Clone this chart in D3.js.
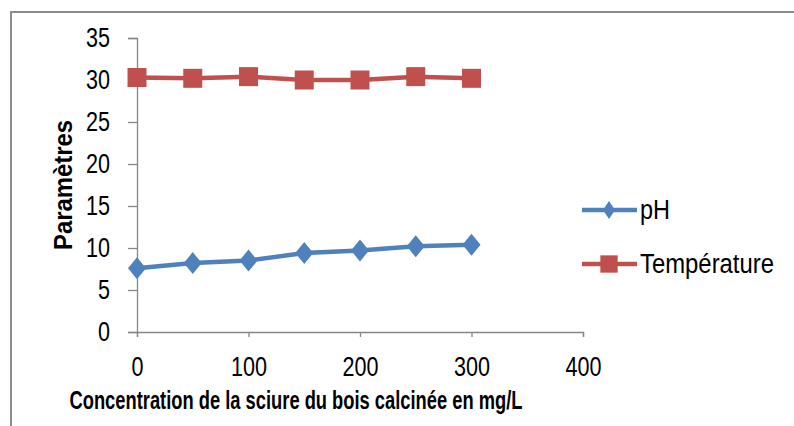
<!DOCTYPE html>
<html>
<head>
<meta charset="utf-8">
<script src="https://d3js.org/d3.v7.min.js"></script>
<style>
  body { margin: 0; background: #fff; }
  text { font-family: "Liberation Sans", Arial, sans-serif; fill: #000; }
</style>
</head>
<body>
<div id="chart"></div>
<script>
"use strict";
// data
var concentrations = [0, 50, 100, 150, 200, 250, 300];
var pH = [7.6, 8.2, 8.5, 9.4, 9.7, 10.2, 10.4];
var temperature = [30.3, 30.2, 30.4, 30.0, 30.0, 30.4, 30.2];
var xTicks = [0, 100, 200, 300, 400];
var yTicks = [0, 5, 10, 15, 20, 25, 30, 35];
var seriesNames = ["pH", "Température"];
var colors = ["#4F81BD", "#C0504D"];

var W = 794, H = 426;
var svg = d3.select("#chart").append("svg").attr("width", W).attr("height", H);

// outer frame (only top and left edges show)
svg.append("path")
  .attr("d", "M11,426 V12 H794")
  .attr("fill", "none").attr("stroke", "#8c8c8c").attr("stroke-width", 2);

var x = d3.scaleLinear().domain([0, 400]).range([137, 583]);
var y = d3.scaleLinear().domain([0, 35]).range([332, 38]);

// the source font is a narrow one: fit digits to about 12px each
function narrowDigits(sel) {
  sel.each(function () {
    var n = this.textContent.length;
    d3.select(this).attr("textLength", n * 12).attr("lengthAdjust", "spacingAndGlyphs");
  });
}

var yAxis = svg.append("g").attr("transform", "translate(137,0)")
  .call(d3.axisLeft(y).tickValues(yTicks).tickSize(9).tickPadding(18));
var xAxis = svg.append("g").attr("transform", "translate(0,332)")
  .call(d3.axisBottom(x).tickValues(xTicks).tickSize(5).tickPadding(20));

[yAxis, xAxis].forEach(function (a) {
  a.select(".domain").attr("stroke", "#868686").attr("stroke-width", 1.3);
  a.selectAll(".tick line").attr("stroke", "#868686").attr("stroke-width", 1.3);
  a.selectAll(".tick text").style("font-size", "27px").attr("fill", "#000");
  narrowDigits(a.selectAll(".tick text"));
});

// axis titles
svg.append("text")
  .attr("transform", "translate(72,185) rotate(-90)")
  .attr("text-anchor", "middle")
  .style("font-size", "26px").style("font-weight", "bold")
  .attr("textLength", 130).attr("lengthAdjust", "spacingAndGlyphs")
  .text("Paramètres");

svg.append("text")
  .attr("x", 296).attr("y", 409)
  .attr("text-anchor", "middle")
  .style("font-size", "25px").style("font-weight", "bold")
  .attr("textLength", 453).attr("lengthAdjust", "spacingAndGlyphs")
  .text("Concentration de la sciure du bois calcinée en mg/L");

var diamond = "M0,-11L9,0L0,11L-9,0Z";
var square = d3.symbol(d3.symbolSquare, 361)();
var shapes = [diamond, square];
var series = [pH, temperature];

var line = d3.line()
  .x(function (d, i) { return x(concentrations[i]); })
  .y(function (d) { return y(d); });

series.forEach(function (vals, s) {
  var g = svg.append("g");
  g.append("path").datum(vals)
    .attr("d", line)
    .attr("fill", "none")
    .attr("stroke", colors[s])
    .attr("stroke-width", 4.5);
  g.selectAll("path.mk").data(vals).enter().append("path")
    .attr("class", "mk")
    .attr("d", shapes[s])
    .attr("transform", function (d, i) { return "translate(" + x(concentrations[i]) + "," + y(d) + ")"; })
    .attr("fill", colors[s]);
});

// legend
var legendY = [210, 264];
var legendLen = [30, 134];
seriesNames.forEach(function (name, s) {
  var g = svg.append("g").attr("transform", "translate(0," + legendY[s] + ")");
  g.append("line").attr("x1", 582).attr("x2", 637).attr("y1", 0).attr("y2", 0)
    .attr("stroke", colors[s]).attr("stroke-width", 4.5);
  g.append("path")
    .attr("d", s === 0 ? "M0,-9L6,0L0,9L-6,0Z" : d3.symbol(d3.symbolSquare, 300)())
    .attr("transform", "translate(609,0)")
    .attr("fill", colors[s]);
  g.append("text").attr("x", 640).attr("y", 9)
    .style("font-size", "27px")
    .attr("textLength", legendLen[s]).attr("lengthAdjust", "spacingAndGlyphs")
    .text(name);
});
</script>
</body>
</html>
